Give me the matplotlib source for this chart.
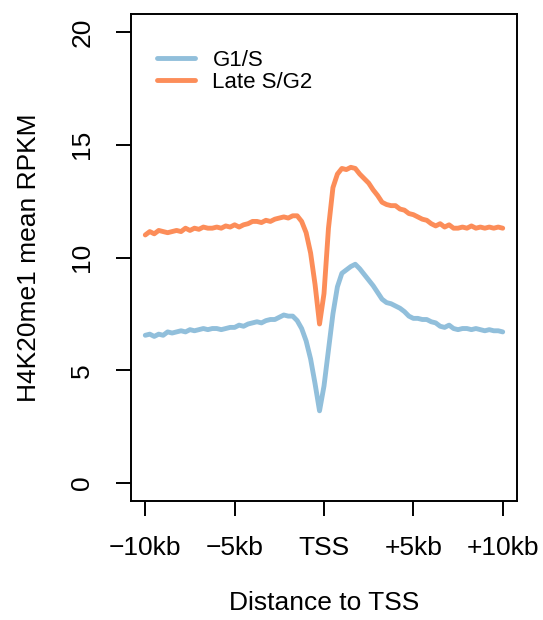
import numpy as np
import matplotlib
matplotlib.use("Agg")
import matplotlib.pyplot as plt

plt.rcParams['font.family'] = ['Liberation Sans', 'DejaVu Sans']

# distancia ao TSS em kb (grade de 0.25 kb)
distancia = np.arange(-10, 10.001, 0.25)

# H4K20me1 mean RPKM
g1s = [6.55, 6.6, 6.5, 6.6, 6.55, 6.7, 6.65, 6.7, 6.75, 6.7,
       6.8, 6.75, 6.8, 6.85, 6.8, 6.85, 6.85, 6.8, 6.85, 6.9,
       6.9, 7.0, 6.95, 7.05, 7.1, 7.15, 7.1, 7.2, 7.25, 7.25,
       7.35, 7.45, 7.4, 7.4, 7.2, 6.85, 6.3, 5.5, 4.4, 3.2,
       4.3,
       5.9, 7.5, 8.7, 9.3, 9.45, 9.6, 9.7, 9.5, 9.25, 9.0,
       8.75, 8.45, 8.15, 8.0, 7.95, 7.85, 7.75, 7.6, 7.4, 7.3,
       7.3, 7.25, 7.25, 7.15, 7.1, 6.95, 6.9, 7.0, 6.85, 6.8,
       6.85, 6.85, 6.8, 6.85, 6.8, 6.75, 6.8, 6.75, 6.75, 6.7]

late_sg2 = [11.0, 11.15, 11.05, 11.2, 11.15, 11.1, 11.15, 11.2, 11.15, 11.3,
            11.2, 11.3, 11.25, 11.35, 11.3, 11.3, 11.35, 11.3, 11.4, 11.35,
            11.45, 11.35, 11.45, 11.5, 11.6, 11.6, 11.55, 11.65, 11.6, 11.7,
            11.75, 11.8, 11.75, 11.85, 11.85, 11.6, 11.1, 10.2, 8.8, 7.05,
            8.4,
            11.3, 13.1, 13.7, 13.95, 13.9, 14.0, 13.95, 13.7, 13.5, 13.3,
            13.0, 12.75, 12.45, 12.35, 12.3, 12.3, 12.15, 12.1, 11.95, 11.9,
            11.8, 11.7, 11.65, 11.5, 11.4, 11.5, 11.35, 11.45, 11.3, 11.3,
            11.35, 11.3, 11.4, 11.3, 11.35, 11.3, 11.35, 11.3, 11.35, 11.3]

x_ticks = [-10, -5, 0, 5, 10]
x_labels = ['\u221210kb', '\u22125kb', 'TSS', '+5kb', '+10kb']
y_ticks = [0, 5, 10, 15, 20]

cor_g1s = '#91BFDB'
cor_late = '#FC8D59'

fig = plt.figure(figsize=(5.43, 6.2), dpi=100)
ax = fig.add_axes([131/543, 1 - 501/620, 386/543, 487/620])

ax.plot(distancia, g1s, color=cor_g1s, lw=3.5, label='G1/S', solid_capstyle='round')
ax.plot(distancia, late_sg2, color=cor_late, lw=3.5, label='Late S/G2', solid_capstyle='round')

ax.set_xlim(-10.8, 10.8)
ax.set_ylim(-0.8, 20.8)
ax.set_xticks(x_ticks)
ax.set_xticklabels(x_labels)
ax.set_yticks(y_ticks)
ax.set_yticklabels([str(v) for v in y_ticks], rotation=90, va='center')

for s in ax.spines.values():
    s.set_linewidth(1.4)
ax.tick_params(axis='both', length=10.5, width=1.4, labelsize=19, direction='out')
ax.tick_params(axis='x', pad=15)
ax.tick_params(axis='y', pad=16)

ax.set_xlabel('Distance to TSS', fontsize=19, labelpad=22)
ax.set_ylabel('H4K20me1 mean RPKM', fontsize=19, labelpad=21)

ax.legend(loc='upper left', bbox_to_anchor=(0.067, 0.926), frameon=False,
          fontsize=16, handlelength=1.7, handletextpad=0.8, labelspacing=0.05,
          borderpad=0, borderaxespad=0)

plt.savefig('out.png', dpi=100)
